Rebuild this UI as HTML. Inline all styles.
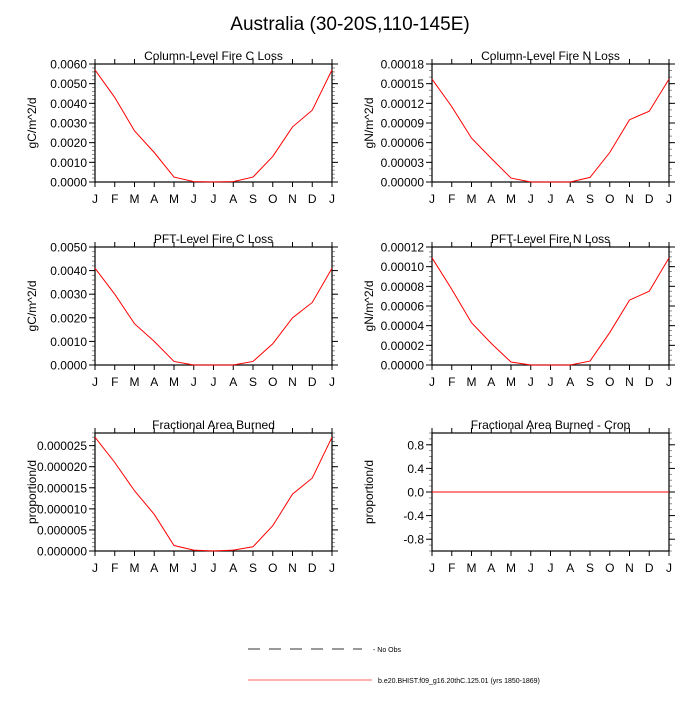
<!DOCTYPE html>
<html><head><meta charset="utf-8"><style>
body{margin:0;background:#fff;}
svg text{font-family:"Liberation Sans",Arial,sans-serif;fill:#000;}
</style></head><body>
<svg id="fig" width="700" height="700" viewBox="0 0 700 700" xmlns="http://www.w3.org/2000/svg">
<rect width="700" height="700" fill="#fff"/>
<text x="350" y="30" font-size="19" text-anchor="middle">Australia (30-20S,110-145E)</text>
<g id="panels"></g>
<g>
<line x1="248" y1="649" x2="362" y2="649" stroke="#333" stroke-width="1" stroke-dasharray="12,9"/>
<text x="373" y="652" font-size="7">- No Obs</text>
<line x1="248" y1="680" x2="372" y2="680" stroke="#f66" stroke-width="1"/>
<text x="378" y="683" font-size="7">b.e20.BHIST.f09_g16.20thC.125.01 (yrs 1850-1869)</text>
</g>
</svg>
<script>
const months = ["J","F","M","A","M","J","J","A","S","O","N","D","J"];
const colCLoss = [0.0057,0.0043,0.0026,0.0015,0.00025,0.00002,0,0.00002,0.00025,0.0013,0.0028,0.00365,0.0057];
const colNLoss = [0.000157,0.000115,0.000067,0.000036,0.000006,0,0,0,0.000007,0.000045,0.000095,0.000108,0.000157];
const pftCLoss = [0.0041,0.0030,0.00175,0.0010,0.00015,0,0,0,0.00015,0.0009,0.0020,0.00265,0.0041];
const pftNLoss = [0.000109,0.000077,0.000043,0.000022,0.000003,0,0,0,0.000004,0.000033,0.000066,0.000075,0.000109];
const fracBurned = [0.000027,0.000021,0.0000143,0.0000087,0.0000013,0.0000002,0,0.0000002,0.000001,0.000006,0.0000135,0.0000173,0.000027];
const fracCrop = [0,0,0,0,0,0,0,0,0,0,0,0,0];
const ticksC1 = ["0.0000","0.0010","0.0020","0.0030","0.0040","0.0050","0.0060"];
const ticksN1 = ["0.00000","0.00003","0.00006","0.00009","0.00012","0.00015","0.00018"];
const ticksC2 = ["0.0000","0.0010","0.0020","0.0030","0.0040","0.0050"];
const ticksN2 = ["0.00000","0.00002","0.00004","0.00006","0.00008","0.00010","0.00012"];
const ticksF = ["0.000000","0.000005","0.000010","0.000015","0.000020","0.000025"];
const ticksCrop = ["-0.8","-0.4","0.0","0.4","0.8"];

const NS="http://www.w3.org/2000/svg";
const root=document.getElementById('panels');
function mk(tag,attrs,parent){const e=document.createElementNS(NS,tag);for(const k in attrs)e.setAttribute(k,attrs[k]);parent.appendChild(e);return e;}

const panels=[
 {name:"col-c-loss",title:"Column-Level Fire C Loss",yl:"gC/m^2/d",x0:95,y0:64,data:colCLoss,ticks:ticksC1,ymin:0,ymax:0.006,minor:5},
 {name:"col-n-loss",title:"Column-Level Fire N Loss",yl:"gN/m^2/d",x0:432,y0:64,data:colNLoss,ticks:ticksN1,ymin:0,ymax:0.00018,minor:3},
 {name:"pft-c-loss",title:"PFT-Level Fire C Loss",yl:"gC/m^2/d",x0:95,y0:247,data:pftCLoss,ticks:ticksC2,ymin:0,ymax:0.005,minor:5},
 {name:"pft-n-loss",title:"PFT-Level Fire N Loss",yl:"gN/m^2/d",x0:432,y0:247,data:pftNLoss,ticks:ticksN2,ymin:0,ymax:0.00012,minor:4},
 {name:"frac-burned",title:"Fractional Area Burned",yl:"proportion/d",x0:95,y0:433,data:fracBurned,ticks:ticksF,ymin:0,ymax:0.000028,minor:5},
 {name:"frac-burned-crop",title:"Fractional Area Burned - Crop",yl:"proportion/d",x0:432,y0:433,data:fracCrop,ticks:ticksCrop,ymin:-1,ymax:1,minor:4}
];
const W=237,H=118;
panels.forEach(p=>{
 const g=mk('g',{},root);
 
 
 const xs=i=>p.x0+i*W/12;
 const ys=v=>p.y0+H-(v-p.ymin)/(p.ymax-p.ymin)*H;
 const t=mk('text',{x:p.x0+W/2,y:p.y0-4,'font-size':12,'text-anchor':'middle'},g);t.textContent=p.title;
 
 
 const yl=mk('text',{x:0,y:0,'font-size':12,'text-anchor':'middle',transform:`translate(${p.x0-59},${p.y0+H/2}) rotate(-90)`},g);yl.textContent=p.yl;
 
 
 // x ticks
 months.forEach((m,i)=>{
  const x=xs(i);
  mk('line',{x1:x,y1:p.y0+H,x2:x,y2:p.y0+H+5,stroke:'#000','stroke-width':1},g);
  mk('line',{x1:x,y1:p.y0,x2:x,y2:p.y0-5,stroke:'#000','stroke-width':1},g);
  const tx=mk('text',{x:x,y:p.y0+H+21,'font-size':12,'text-anchor':'middle'},g);tx.textContent=m;
  
  
 });
 // y ticks
 const vals=p.ticks.map(Number);
 const step=vals[1]-vals[0];
 for(let v=p.ymin;v<=p.ymax+1e-12;v+=step/p.minor){
  const y=ys(v);
  mk('line',{x1:p.x0,y1:y,x2:p.x0-3,y2:y,stroke:'#777','stroke-width':0.8},g);
  mk('line',{x1:p.x0+W,y1:y,x2:p.x0+W+3,y2:y,stroke:'#777','stroke-width':0.8},g);
 }
 p.ticks.forEach(s=>{
  const y=ys(Number(s));
  mk('line',{x1:p.x0,y1:y,x2:p.x0-6,y2:y,stroke:'#000','stroke-width':1},g);
  mk('line',{x1:p.x0+W,y1:y,x2:p.x0+W+6,y2:y,stroke:'#000','stroke-width':1},g);
  const ty=mk('text',{x:p.x0-8,y:y+4.5,'font-size':12,'text-anchor':'end'},g);ty.textContent=s;
  
  
 });
 mk('rect',{x:p.x0,y:p.y0,width:W,height:H,fill:'none',stroke:'#000','stroke-width':1.2},g);
 const pts=p.data.map((v,i)=>xs(i).toFixed(2)+','+ys(v).toFixed(2)).join(' ');
 const pl=mk('polyline',{points:pts,fill:'none',stroke:'#f00','stroke-width':1},g);
 
 
});
</script>
</body></html>
